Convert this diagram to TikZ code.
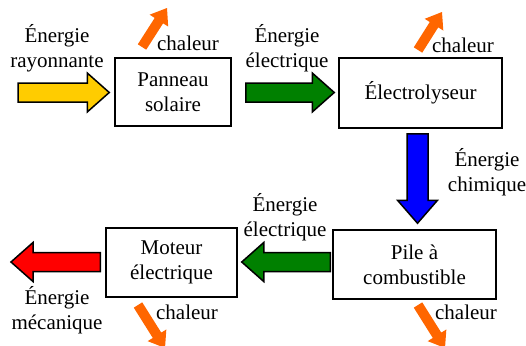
\documentclass[tikz,border=0pt]{standalone}
\usepackage{fontspec}
\newfontfamily\tnrfont{Liberation Serif}
\usetikzlibrary{calc}
\definecolor{cyell}{RGB}{255,204,0}
\definecolor{cgreen}{RGB}{0,128,0}
\definecolor{cblue}{RGB}{0,0,255}
\definecolor{cred}{RGB}{255,0,0}
\definecolor{corange}{RGB}{255,102,0}
% block arrow: #1 style, #2 start, #3 end, #4 shaft half width, #5 head half width, #6 head length
\newcommand{\blockarr}[6]{%
  \path[#1] let \p1=(#2), \p2=(#3), \n1={atan2(\y2-\y1,\x2-\x1)}, \n2={veclen(\x2-\x1,\y2-\y1)} in
    [shift={(\p1)}, rotate=\n1]
    (0,#4) -- ({\n2-#6},#4) -- ({\n2-#6},#5) -- ({\n2},0) -- ({\n2-#6},-#5) -- ({\n2-#6},-#4) -- (0,-#4) -- cycle;}
\begin{document}
\begin{tikzpicture}[x=1pt,y=-1pt,
  every node/.style={font=\tnrfont\fontsize{21}{25}\selectfont, inner sep=0pt},
  box/.style={draw=black, line width=1.5pt, align=center},
  lbl/.style={align=center},
  flow/.style={draw=black, line width=1.5pt, line join=miter},
  heat/.style={fill=corange}]
\useasboundingbox (0,0) rectangle (526,345);
% boxes
\node[box, minimum width=116pt, minimum height=68pt] (pv) at (173,92) {Panneau\\solaire};
\node[box, minimum width=163pt, minimum height=70pt] (el) at (420.5,93) {Électrolyseur};
\node[box, minimum width=163pt, minimum height=69pt] (pac) at (414.5,264.5) {Pile à\\combustible};
\node[box, minimum width=131pt, minimum height=69pt] (mot) at (171.5,262.5) {Moteur\\électrique};
% labels
\node[lbl] (lray) at (57,48.5) {Énergie\\rayonnante};
\node[lbl] (lel1) at (287,48.5) {Énergie\\électrique};
\node[lbl] (lchim) at (487,172) {Énergie\\chimique};
\node[lbl] (lel2) at (285,217.5) {Énergie\\électrique};
\node[lbl] (lmec) at (57,310) {Énergie\\mécanique};
\node (h1) at (188,43) {chaleur};
\node (h2) at (463,45) {chaleur};
\node (h3) at (187,312) {chaleur};
\node (h4) at (466,312) {chaleur};
% arrow end points
\coordinate (ys) at (18,92.5);   \coordinate (ye) at ($(pv.west)+(-5,0.5)$);
\coordinate (g1s) at ($(pv.east)+(14,0.5)$); \coordinate (g1e) at ($(el.west)+(-4,-0.5)$);
\coordinate (bs) at ($(el.south)+(-3,5)$);  \coordinate (be) at ($(pac.north)+(3,-6)$);
\coordinate (g2s) at ($(pac.west)+(-2,-2.5)$); \coordinate (g2e) at ($(mot.east)+(4,-0.5)$);
\coordinate (rs) at ($(mot.west)+(-5,-0.5)$); \coordinate (re) at (11,262);
\coordinate (o1s) at (142,47); \coordinate (o1e) at (167,8);
\coordinate (o2s) at (418,50); \coordinate (o2e) at (442,12);
\coordinate (o3s) at (138,305); \coordinate (o3e) at (165,348);
\coordinate (o4s) at (418,305); \coordinate (o4e) at (445,348);
% block arrows
\blockarr{flow, fill=cyell}{ys}{ye}{9.5}{19.5}{22}
\blockarr{flow, fill=cgreen}{g1s}{g1e}{9.5}{19.5}{22}
\blockarr{flow, fill=cblue}{bs}{be}{10.5}{20}{23}
\blockarr{flow, fill=cgreen}{g2s}{g2e}{9.5}{19.5}{22}
\blockarr{flow, fill=cred}{rs}{re}{9.5}{19.5}{22}
% heat arrows
\blockarr{heat}{o1s}{o1e}{5}{11}{15}
\blockarr{heat}{o2s}{o2e}{5}{11}{15}
\blockarr{heat}{o3s}{o3e}{5}{11}{15}
\blockarr{heat}{o4s}{o4e}{5}{11}{15}
\end{tikzpicture}
\end{document}
